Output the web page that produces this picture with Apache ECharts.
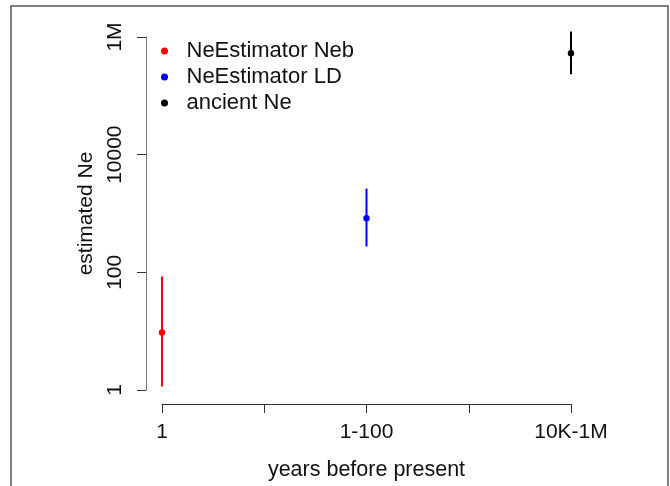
<!DOCTYPE html>
<html>
<head>
<meta charset="utf-8">
<script src="https://cdn.jsdelivr.net/npm/echarts@6/dist/echarts.min.js"></script>
<style>
html, body { margin: 0; padding: 0; background: #fff; }
#chart { width: 670px; height: 486px; }
</style>
</head>
<body>
<div id="chart"></div>
<script>
// estimates
var groups = ['NeEstimator Neb', 'NeEstimator LD', 'ancient Ne'];
var xPos = [1, 3, 5];
var estimates = [9.5, 830, 530000];
var lower = [1.15, 275, 233000];
var upper = [85, 2650, 1240000];
var xTickLabels = ['1', '', '1-100', '', '10K-1M'];
var yTickValues = [1, 100, 10000, 1000000];
var yTickLabels = ['1', '100', '10000', '1M'];

var colors = ['#ff0000', '#0000ff', '#000000'];
var font = 'Liberation Sans, Arial, Helvetica, sans-serif';

// error bar + point
function renderBar(params, api) {
	var x = api.value(0);
	var top = api.coord([x, api.value(3)]);
	var bot = api.coord([x, api.value(2)]);
	var mid = api.coord([x, api.value(1)]);
	var c = api.visual('color');
	return {
		type: 'group',
		children: [{
			type: 'line',
			shape: { x1: top[0], y1: top[1], x2: bot[0], y2: bot[1] },
			style: { stroke: c, lineWidth: 2 }
		}, {
			type: 'circle',
			shape: { cx: mid[0], cy: mid[1], r: 3.2 },
			style: { fill: c }
		}]
	};
}

var series = groups.map(function(name, i) {
	return {
		name: name,
		type: 'custom',
		clip: false,
		itemStyle: { color: colors[i] },
		renderItem: renderBar,
		data: [[xPos[i], estimates[i], lower[i], upper[i]]]
	};
});

var chart = echarts.init(document.getElementById('chart'));
chart.setOption({
	backgroundColor: '#fff',
	animation: false,
	textStyle: { fontFamily: font, color: '#111' },
	grid: { left: 162, right: 99, top: 37, bottom: 91 },
	legend: {
		orient: 'vertical',
		left: 156,
		top: 35,
		icon: 'circle',
		itemWidth: 34,
		itemHeight: 7,
		itemGap: 4,
		textStyle: { fontSize: 22, color: '#111', fontFamily: font },
		data: groups
	},
	xAxis: {
		type: 'value',
		min: 1,
		max: 5,
		interval: 1,
		offset: 14,
		splitLine: { show: false },
		axisLine: { lineStyle: { color: '#333', width: 1 } },
		axisTick: { length: 9, lineStyle: { color: '#333' } },
		axisLabel: {
			fontSize: 21,
			color: '#111',
			margin: 18,
			showMinLabel: true,
			showMaxLabel: true,
			formatter: function(v) { return xTickLabels[Math.round(v) - 1] || ''; }
		},
		name: 'years before present',
		nameLocation: 'middle',
		nameGap: 55,
		nameTextStyle: { fontSize: 21.5, color: '#111' }
	},
	yAxis: {
		type: 'log',
		logBase: 10,
		min: 1,
		max: 1000000,
		interval: 2,
		offset: 16,
		splitLine: { show: false },
		axisLine: { show: true, lineStyle: { color: '#777', width: 1 } },
		axisTick: { show: true, length: 9, lineStyle: { color: '#333' } },
		axisLabel: {
			fontSize: 21,
			color: '#111',
			rotate: 90,
			margin: 20,
			showMinLabel: true,
			showMaxLabel: true,
			formatter: function(v) {
				var k = yTickValues.indexOf(Math.round(v));
				return k >= 0 ? yTickLabels[k] : '';
			}
		},
		name: 'estimated Ne',
		nameLocation: 'middle',
		nameGap: 42,
		nameTextStyle: { fontSize: 21, color: '#111' }
	},
	graphic: [{
		type: 'rect',
		silent: true,
		shape: { x: 11, y: 6, width: 657, height: 500 },
		style: { fill: null, stroke: '#555', lineWidth: 1.5 }
	}],
	series: series
});
</script>
</body>
</html>
